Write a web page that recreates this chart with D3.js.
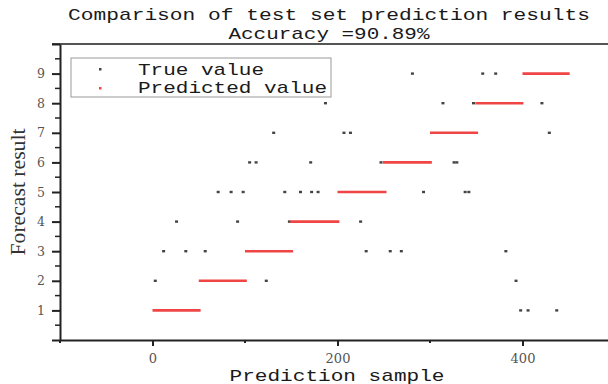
<!DOCTYPE html>
<html><head><meta charset="utf-8">
<script src="https://cdn.jsdelivr.net/npm/d3@7"></script>
<style>body{margin:0;background:#fff;}svg{display:block;}</style>
</head><body>
<script>
// ---- data ----
const titleLines = ["Comparison of test set prediction results", "Accuracy =90.89%"];
const xLabel = "Prediction sample";
const yLabel = "Forecast result";
const xMajorTicks = [0, 200, 400];
const xMinorTicks = [-100, 100, 300];
const yMajorTicks = [0, 1, 2, 3, 4, 5, 6, 7, 8, 9, 10];
const yTickLabels = [1, 2, 3, 4, 5, 6, 7, 8, 9];
const legendLabels = ["True value", "Predicted value"];

// predicted value blocks (red)
const predValue = [1, 2, 3, 4, 5, 6, 7, 8, 9];
const predStart = [0, 50, 100, 149, 200, 249, 300, 349, 400];
const predEnd   = [52, 102, 152, 202, 253, 302, 352, 401, 451];

// true values visible (black)
const trueX = [281, 357, 371,
               187, 314, 347, 421,
               131, 207, 214, 429,
               105, 112, 171, 247, 326, 329,
               71, 85, 98, 143, 160, 172, 179, 293, 338, 342,
               26, 92, 148, 225,
               12, 36, 57, 231, 257, 269, 382,
               3, 123, 393,
               398, 406, 437];
const trueY = [9, 9, 9,
               8, 8, 8, 8,
               7, 7, 7, 7,
               6, 6, 6, 6, 6, 6,
               5, 5, 5, 5, 5, 5, 5, 5, 5, 5,
               4, 4, 4, 4,
               3, 3, 3, 3, 3, 3, 3,
               2, 2, 2,
               1, 1, 1];

// ---- chart ----
const W = 608, H = 384;
const svg = d3.select("body").append("svg").attr("width", W).attr("height", H);
const x = d3.scaleLinear().domain([-100, 500]).range([60, 615]);
const y = d3.scaleLinear().domain([0, 10]).range([340, 44]);
const mono = "'Liberation Mono', 'DejaVu Sans Mono', monospace";

// title
svg.append("text").attr("x", 329).attr("y", 20).attr("text-anchor", "middle")
  .attr("font-family", mono).attr("font-size", 17).attr("fill", "#1a1a1a")
  .attr("textLength", 522).attr("lengthAdjust", "spacingAndGlyphs").text(titleLines[0]);
svg.append("text").attr("x", 329).attr("y", 39).attr("text-anchor", "middle")
  .attr("font-family", mono).attr("font-size", 17).attr("fill", "#1a1a1a")
  .attr("textLength", 201).attr("lengthAdjust", "spacingAndGlyphs").text(titleLines[1]);

// top border
svg.append("line").attr("x1", 52).attr("x2", W).attr("y1", y(10)).attr("y2", y(10))
  .attr("stroke", "#555").attr("stroke-width", 2);

// x axis
const xAxis = d3.axisBottom(x).tickValues(xMajorTicks).tickSize(6).tickSizeOuter(0).tickFormat(d3.format("d"));
const gx = svg.append("g").attr("transform", `translate(0,${y(0)})`).call(xAxis);
gx.select(".domain").attr("stroke", "#222").attr("stroke-width", 2);
gx.selectAll(".tick line").attr("stroke", "#222").attr("stroke-width", 2);
gx.selectAll(".tick text").attr("font-family", "'DejaVu Serif', serif").attr("font-size", 13)
  .attr("fill", "#555").attr("dy", "1.1em");
svg.append("g").selectAll("line").data(xMinorTicks).join("line")
  .attr("x1", d => x(d)).attr("x2", d => x(d)).attr("y1", y(0)).attr("y2", y(0) + 3)
  .attr("stroke", "#222").attr("stroke-width", 2);

// y axis
const yAxis = d3.axisLeft(y).tickValues(yMajorTicks).tickSize(8).tickSizeOuter(0)
  .tickFormat(d => yTickLabels.includes(d) ? d : "");
const gy = svg.append("g").attr("transform", `translate(${x(-100)},0)`).call(yAxis);
gy.select(".domain").attr("stroke", "#222").attr("stroke-width", 2);
gy.selectAll(".tick line").attr("stroke", "#222").attr("stroke-width", 2);
gy.selectAll(".tick text").attr("font-family", "'DejaVu Serif', serif").attr("font-size", 12.5)
  .attr("fill", "#555").attr("x", -15);
svg.append("g").selectAll("line").data(d3.range(0, 10).map(d => d + 0.5)).join("line")
  .attr("x1", x(-100)).attr("x2", x(-100) - 5).attr("y1", d => y(d)).attr("y2", d => y(d))
  .attr("stroke", "#222").attr("stroke-width", 1.5);

// axis labels
svg.append("text").attr("x", 337).attr("y", 381).attr("text-anchor", "middle")
  .attr("font-family", mono).attr("font-size", 17).attr("fill", "#1a1a1a")
  .attr("textLength", 215).attr("lengthAdjust", "spacingAndGlyphs").text(xLabel);
svg.append("text").attr("transform", "translate(25,192) rotate(-90)").attr("text-anchor", "middle")
  .attr("font-family", "'Liberation Serif', serif").attr("font-size", 20).attr("fill", "#333")
  .attr("textLength", 127).attr("lengthAdjust", "spacingAndGlyphs").text(yLabel);

// true value dots
svg.append("g").selectAll("rect").data(trueX.map((d, i) => [d, trueY[i]])).join("rect")
  .attr("x", d => x(d[0]) - 1.5).attr("y", d => y(d[1]) - 1.2)
  .attr("width", 3).attr("height", 2.4).attr("fill", "#444");

// predicted segments
svg.append("g").selectAll("line").data(predValue.map((v, i) => [predStart[i], predEnd[i], v])).join("line")
  .attr("x1", d => x(d[0])).attr("x2", d => x(d[1])).attr("y1", d => y(d[2])).attr("y2", d => y(d[2]))
  .attr("stroke", "#f04545").attr("stroke-width", 2.6);

// legend
svg.append("rect").attr("x", 71).attr("y", 58).attr("width", 260).attr("height", 39)
  .attr("fill", "#fff").attr("stroke", "#999").attr("stroke-width", 1);
svg.append("rect").attr("x", 99).attr("y", 68).attr("width", 2.5).attr("height", 2.5).attr("fill", "#444");
svg.append("rect").attr("x", 99).attr("y", 87).attr("width", 2.5).attr("height", 2.5).attr("fill", "#f04545");
svg.append("text").attr("x", 138).attr("y", 75).attr("font-family", mono).attr("font-size", 17)
  .attr("fill", "#1a1a1a").attr("textLength", 126).attr("lengthAdjust", "spacingAndGlyphs").text(legendLabels[0]);
svg.append("text").attr("x", 138).attr("y", 93).attr("font-family", mono).attr("font-size", 17)
  .attr("fill", "#1a1a1a").attr("textLength", 189).attr("lengthAdjust", "spacingAndGlyphs").text(legendLabels[1]);
</script>
</body></html>
